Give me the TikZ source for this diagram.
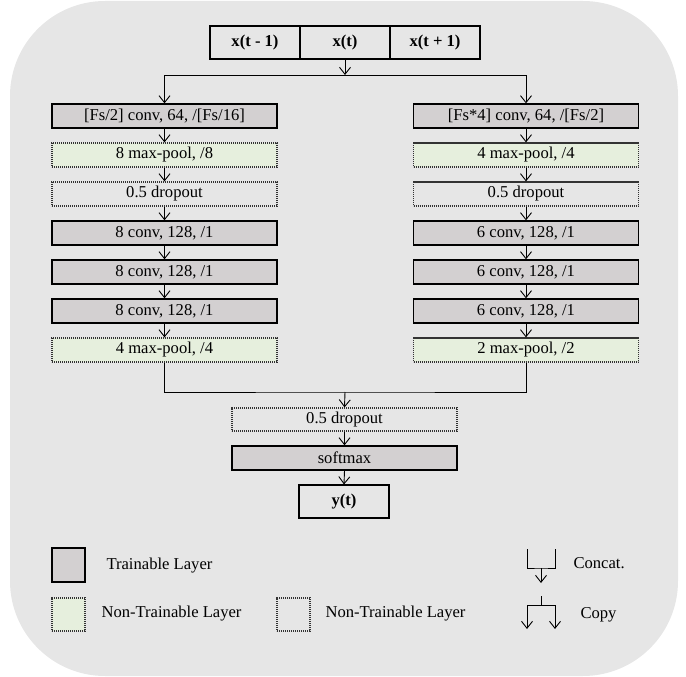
\documentclass[tikz,border=0pt]{standalone}
\usepackage{fontspec}
\setmainfont{Liberation Serif}
\usetikzlibrary{positioning,arrows.meta,calc}
\definecolor{bgcol}{HTML}{E6E6E6}
\definecolor{traincol}{HTML}{D3D0D1}
\definecolor{poolcol}{HTML}{E6EFDD}

\begin{document}
\begin{tikzpicture}[x=1pt,y=-1pt,>={Straight Barb[length=7pt,width=11pt]},
  every node/.style={font=\fontsize{16.6}{19}\selectfont},
  layer/.style={minimum width=225pt,minimum height=24pt,inner sep=0pt},
  trainbox/.style={layer,draw=black,line width=1.3pt,fill=traincol},
  poolbox/.style={layer,draw=black!80,dash pattern=on 1.1pt off 0.9pt,line width=1.2pt,fill=poolcol},
  dropbox/.style={layer,draw=black!80,dash pattern=on 1.1pt off 0.9pt,line width=1.2pt},
  inbox/.style={draw,line width=1.1pt,minimum width=90pt,minimum height=33pt,inner sep=0pt,
    font=\fontsize{16.6}{19}\selectfont\bfseries},
  link/.style={line width=0.9pt}]
  \useasboundingbox (0,0) rectangle (686,677);
  \fill[bgcol,rounded corners=95pt] (10,1) rectangle (678,676);
  % input window
  \node[inbox] (xm) at (255,42.5) {x(t - 1)};
  \node[inbox] (x0) at (345,42.5) {x(t)};
  \node[inbox] (xp) at (435,42.5) {x(t + 1)};
  \coordinate (split) at (345,75);
  % two branches
  \foreach \s/\t [count=\i] in {trainbox/{[Fs/2] conv, 64, /[Fs/16]},poolbox/{8 max-pool, /8},
      dropbox/{0.5 dropout},trainbox/{8 conv, 128, /1},trainbox/{8 conv, 128, /1},
      trainbox/{8 conv, 128, /1},poolbox/{4 max-pool, /4}}
    \node[\s] (L\i) at (164.5,{77+39*\i}) {\t};
  \foreach \s/\t [count=\i] in {trainbox/{[Fs*4] conv, 64, /[Fs/2]},poolbox/{4 max-pool, /4},
      dropbox/{0.5 dropout},trainbox/{6 conv, 128, /1},trainbox/{6 conv, 128, /1},
      trainbox/{6 conv, 128, /1},poolbox/{2 max-pool, /2}}
    \node[\s] (R\i) at (526,{77+39*\i}) {\t};
  \draw[link,->] (x0.south) -- (split);
  \draw[link,->] (split) -| (L1.north);
  \draw[link,->] (split) -| (R1.north);
  \foreach \i/\j in {1/2,2/3,3/4,4/5,5/6,6/7} {
    \draw[link,->] (L\i.south) -- (L\j.north);
    \draw[link,->] (R\i.south) -- (R\j.north);
  }
  % merge
  \coordinate (merge) at (345,392);
  \node[dropbox,minimum height=23pt] (drop) at (344.5,419.5) {0.5 dropout};
  \node[trainbox] (soft) at (344.5,458) {softmax};
  \node[inbox] (out) at (344,501.5) {y(t)};
  \draw[link] (L7.south) |- (merge) -| (R7.south);
  \draw[link,->] (merge) -- (drop.north);
  \draw[link,->] (drop.south) -- (soft.north);
  \draw[link,->] (soft.south) -- (out.north);
  % legend
  \node[trainbox,minimum width=33pt,minimum height=34pt] (kT) at (68.5,565) {};
  \node[poolbox,minimum width=33pt,minimum height=33pt] (kP) at (68.5,614.5) {};
  \node[dropbox,minimum width=33pt,minimum height=33pt] (kD) at (293.5,614.5) {};
  \node[anchor=west] (kTt) at (103,566) {Trainable Layer};
  \node[anchor=west] (kPt) at (98,614) {Non-Trainable Layer};
  \node[anchor=west] (kDt) at (322,614) {Non-Trainable Layer};
  \coordinate (ca) at (527,549); \coordinate (cb) at (555,549);
  \coordinate (cm) at (541,568); \coordinate (co) at (541,583);
  \draw[link] (ca) |- (cm) -| (cb);
  \draw[link,->] (cm) -- (co);
  \coordinate (cs) at (541,596); \coordinate (cj) at (541,605);
  \coordinate (cl) at (527,629); \coordinate (cr) at (555,629);
  \draw[link] (cs) -- (cj);
  \draw[link,->] (cj) -| (cl);
  \draw[link,->] (cj) -| (cr);
  \node[anchor=west] (kCt) at (570,563) {Concat.};
  \node[anchor=west] (kYt) at (577,615) {Copy};
\end{tikzpicture}
\end{document}
